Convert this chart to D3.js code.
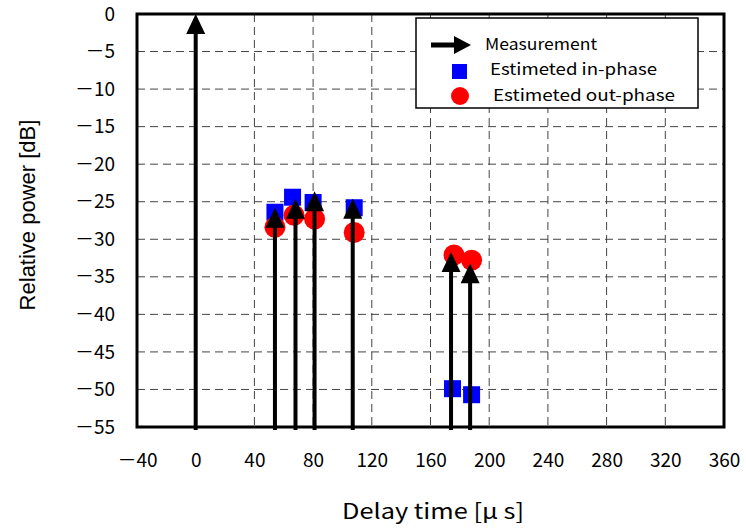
<!DOCTYPE html>
<html>
<head>
<meta charset="utf-8">
<script src="https://cdn.jsdelivr.net/npm/d3@7"></script>
<style>
body { margin: 0; background: #fff; }
text { font-family: "Noto Sans CJK JP", "DejaVu Sans", sans-serif; fill: #000; }
</style>
</head>
<body>
<div id="chart"></div>
<script>
// data
var arrowDelay = [0, 54, 68, 81, 107, 174, 187];
var arrowPower = [0, -25.8, -24.6, -23.6, -24.6, -31.7, -33.2];
var inDelay = [54, 66, 80, 108, 175, 188];
var inPower = [-26.4, -24.4, -25.1, -25.8, -49.9, -50.7];
var outDelay = [54, 67, 81, 108, 176, 188];
var outPower = [-28.4, -26.8, -27.3, -29.1, -32.1, -32.8];
var xTicks = [-40, 0, 40, 80, 120, 160, 200, 240, 280, 320, 360];
var yTicks = [0, -5, -10, -15, -20, -25, -30, -35, -40, -45, -50, -55];
var legendLabels = ["Measurement", "Estimeted in-phase", "Estimeted out-phase"];

var W = 746, H = 530;
var pLeft = 137, pRight = 724, pTop = 14, pBottom = 427;

var svg = d3.select("#chart").append("svg").attr("width", W).attr("height", H);

var x = d3.scaleLinear().domain([-40, 360]).range([pLeft, pRight]);
var y = d3.scaleLinear().domain([-55, 0]).range([pBottom, pTop]);

// grid
svg.append("g").selectAll("line").data(xTicks.slice(1, -1)).enter().append("line")
	.attr("x1", function(d){ return x(d); }).attr("x2", function(d){ return x(d); })
	.attr("y1", pTop).attr("y2", pBottom)
	.attr("stroke", "#444").attr("stroke-width", 1).attr("stroke-dasharray", "8,5");
svg.append("g").selectAll("line").data(yTicks.slice(1, -1)).enter().append("line")
	.attr("y1", function(d){ return y(d); }).attr("y2", function(d){ return y(d); })
	.attr("x1", pLeft).attr("x2", pRight)
	.attr("stroke", "#444").attr("stroke-width", 1).attr("stroke-dasharray", "8,5");

// tick labels via d3 axes (full width minus like the original)
var fmt = function(d){ return d < 0 ? "\uFF0D" + Math.abs(d) : String(d); };
var xAxis = svg.append("g").attr("transform", "translate(0," + pBottom + ")")
	.call(d3.axisBottom(x).tickValues(xTicks).tickFormat(fmt).tickSize(0).tickPadding(27));
var yAxis = svg.append("g").attr("transform", "translate(" + pLeft + ",0)")
	.call(d3.axisLeft(y).tickValues(yTicks).tickFormat(fmt).tickSize(0).tickPadding(22));
[xAxis, yAxis].forEach(function(a){
	a.select(".domain").remove();
	a.selectAll("text").attr("font-size", 19).style("font-family", "'Noto Sans CJK JP', sans-serif");
});

// estimated in-phase (squares)
var sq = 17;
svg.append("g").selectAll("rect").data(inDelay).enter().append("rect")
	.attr("x", function(d){ return x(d) - sq / 2; })
	.attr("y", function(d, i){ return y(inPower[i]) - sq / 2; })
	.attr("width", sq).attr("height", sq).attr("fill", "#0000ff");

// estimated out-phase (circles)
svg.append("g").selectAll("circle").data(outDelay).enter().append("circle")
	.attr("cx", function(d){ return x(d); })
	.attr("cy", function(d, i){ return y(outPower[i]); })
	.attr("r", 10.5).attr("fill", "#ff0000");

// measurement arrows
var headW = 19, headH = 20;
var arrows = svg.append("g");
arrows.selectAll("line").data(arrowDelay).enter().append("line")
	.attr("x1", function(d){ return x(d); }).attr("x2", function(d){ return x(d); })
	.attr("y1", pBottom + 3)
	.attr("y2", function(d, i){ return y(arrowPower[i]) + headH - 2; })
	.attr("stroke", "#000").attr("stroke-width", 4);
arrows.selectAll("path").data(arrowDelay).enter().append("path")
	.attr("d", function(d, i){
		var cx = x(d), ty = y(arrowPower[i]);
		return "M" + cx + "," + ty + "L" + (cx - headW / 2) + "," + (ty + headH) + "L" + (cx + headW / 2) + "," + (ty + headH) + "Z";
	})
	.attr("fill", "#000");

// frame
svg.append("rect").attr("x", pLeft).attr("y", pTop).attr("width", pRight - pLeft).attr("height", pBottom - pTop)
	.attr("fill", "none").attr("stroke", "#000").attr("stroke-width", 3);

// legend
var lg = svg.append("g").attr("transform", "translate(416,18)");
lg.append("rect").attr("width", 282).attr("height", 90).attr("fill", "#fff").attr("stroke", "#000").attr("stroke-width", 1.5);
lg.append("line").attr("x1", 15).attr("x2", 40).attr("y1", 27).attr("y2", 27).attr("stroke", "#000").attr("stroke-width", 5);
lg.append("path").attr("d", "M38,18L55,27L38,36Z").attr("fill", "#000");
lg.append("rect").attr("x", 36).attr("y", 46).attr("width", 15).attr("height", 15).attr("fill", "#0000ff");
lg.append("circle").attr("cx", 44).attr("cy", 78).attr("r", 9).attr("fill", "#ff0000");
lg.selectAll("text").data(legendLabels).enter().append("text")
	.attr("x", function(d, i){ return [69, 74, 77][i]; })
	.attr("y", function(d, i){ return [26, 51, 77][i]; })
	.attr("dy", "0.35em").attr("font-size", 16)
	.attr("textLength", function(d, i){ return [112, 167, 182][i]; })
	.attr("lengthAdjust", "spacingAndGlyphs")
	.text(function(d){ return d; });

// axis titles
svg.append("text").attr("x", 342).attr("y", 512).attr("dy", "0.35em")
	.attr("font-size", 21).attr("textLength", 182).attr("lengthAdjust", "spacingAndGlyphs")
	.text("Delay time [\u03bc s]");
svg.append("text").attr("transform", "translate(27,215) rotate(-90)").attr("text-anchor", "middle").attr("dy", "0.35em")
	.attr("font-size", 22).style("font-family", "'Liberation Sans', Arial, sans-serif").text("Relative power [dB]");
</script>
</body>
</html>
